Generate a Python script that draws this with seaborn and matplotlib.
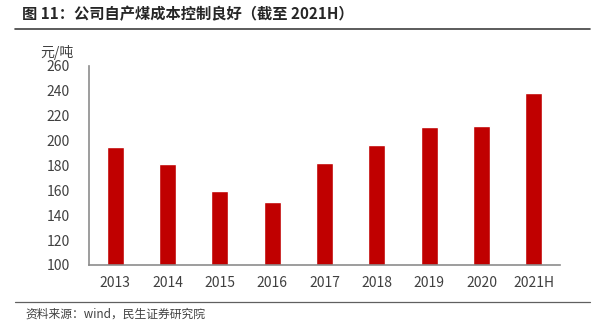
import matplotlib
matplotlib.use("Agg")
import matplotlib.pyplot as plt
import seaborn as sns
import pandas as pd
from matplotlib.lines import Line2D

categories = ["2013", "2014", "2015", "2016", "2017", "2018", "2019", "2020", "2021H"]
values = [195, 181, 159.5, 150.5, 182, 196.5, 211, 211.5, 238.5]
yticks = [100, 120, 140, 160, 180, 200, 220, 240, 260]

sns.set_theme(style="white")
plt.rcParams['font.family'] = ['Noto Sans CJK SC', 'DejaVu Sans']

df = pd.DataFrame({"year": categories, "cost": values})

fig = plt.figure(figsize=(5.96, 3.36), dpi=100)
ax = fig.add_axes([89/596, 1-265/336, (560-89)/596, (265-66)/336])
sns.barplot(data=df, x="year", y="cost", color="#C00000", width=0.32, ax=ax, saturation=1)

ax.set_ylim(100, 260)
ax.set_yticks(yticks)
ax.set_xlim(-0.5, len(categories)-0.5)
ax.set_xlabel("")
ax.set_ylabel("")
for s in ["top", "right"]:
    ax.spines[s].set_visible(False)
for s in ["left", "bottom"]:
    ax.spines[s].set_color("#8c8c8c")
    ax.spines[s].set_linewidth(1.2)
ax.tick_params(axis="y", direction="in", length=4, color="#8c8c8c", width=1.2, labelsize=10, labelcolor="#404040", pad=14)
ax.tick_params(axis="x", length=0, labelsize=10, labelcolor="#404040", pad=8)

fig.text(40/596, 1-52/336, "元/吨", fontsize=10, color="#404040", va="center", ha="left")

fig.text(22/596, 1-14/336, "图 11：公司自产煤成本控制良好（截至 2021H）", fontsize=11, fontweight="bold", color="#262626", va="center", ha="left")
fig.add_artist(Line2D([15/596, 590/596], [1-29/336, 1-29/336], color="#404040", lw=1.2, transform=fig.transFigure))
fig.add_artist(Line2D([15/596, 590/596], [1-302/336, 1-302/336], color="#606060", lw=0.9, transform=fig.transFigure))
fig.text(25/596, 1-314/336, "资料来源：wind，民生证券研究院", fontsize=8.5, color="#404040", va="center", ha="left")

fig.savefig("out.png", dpi=100)
